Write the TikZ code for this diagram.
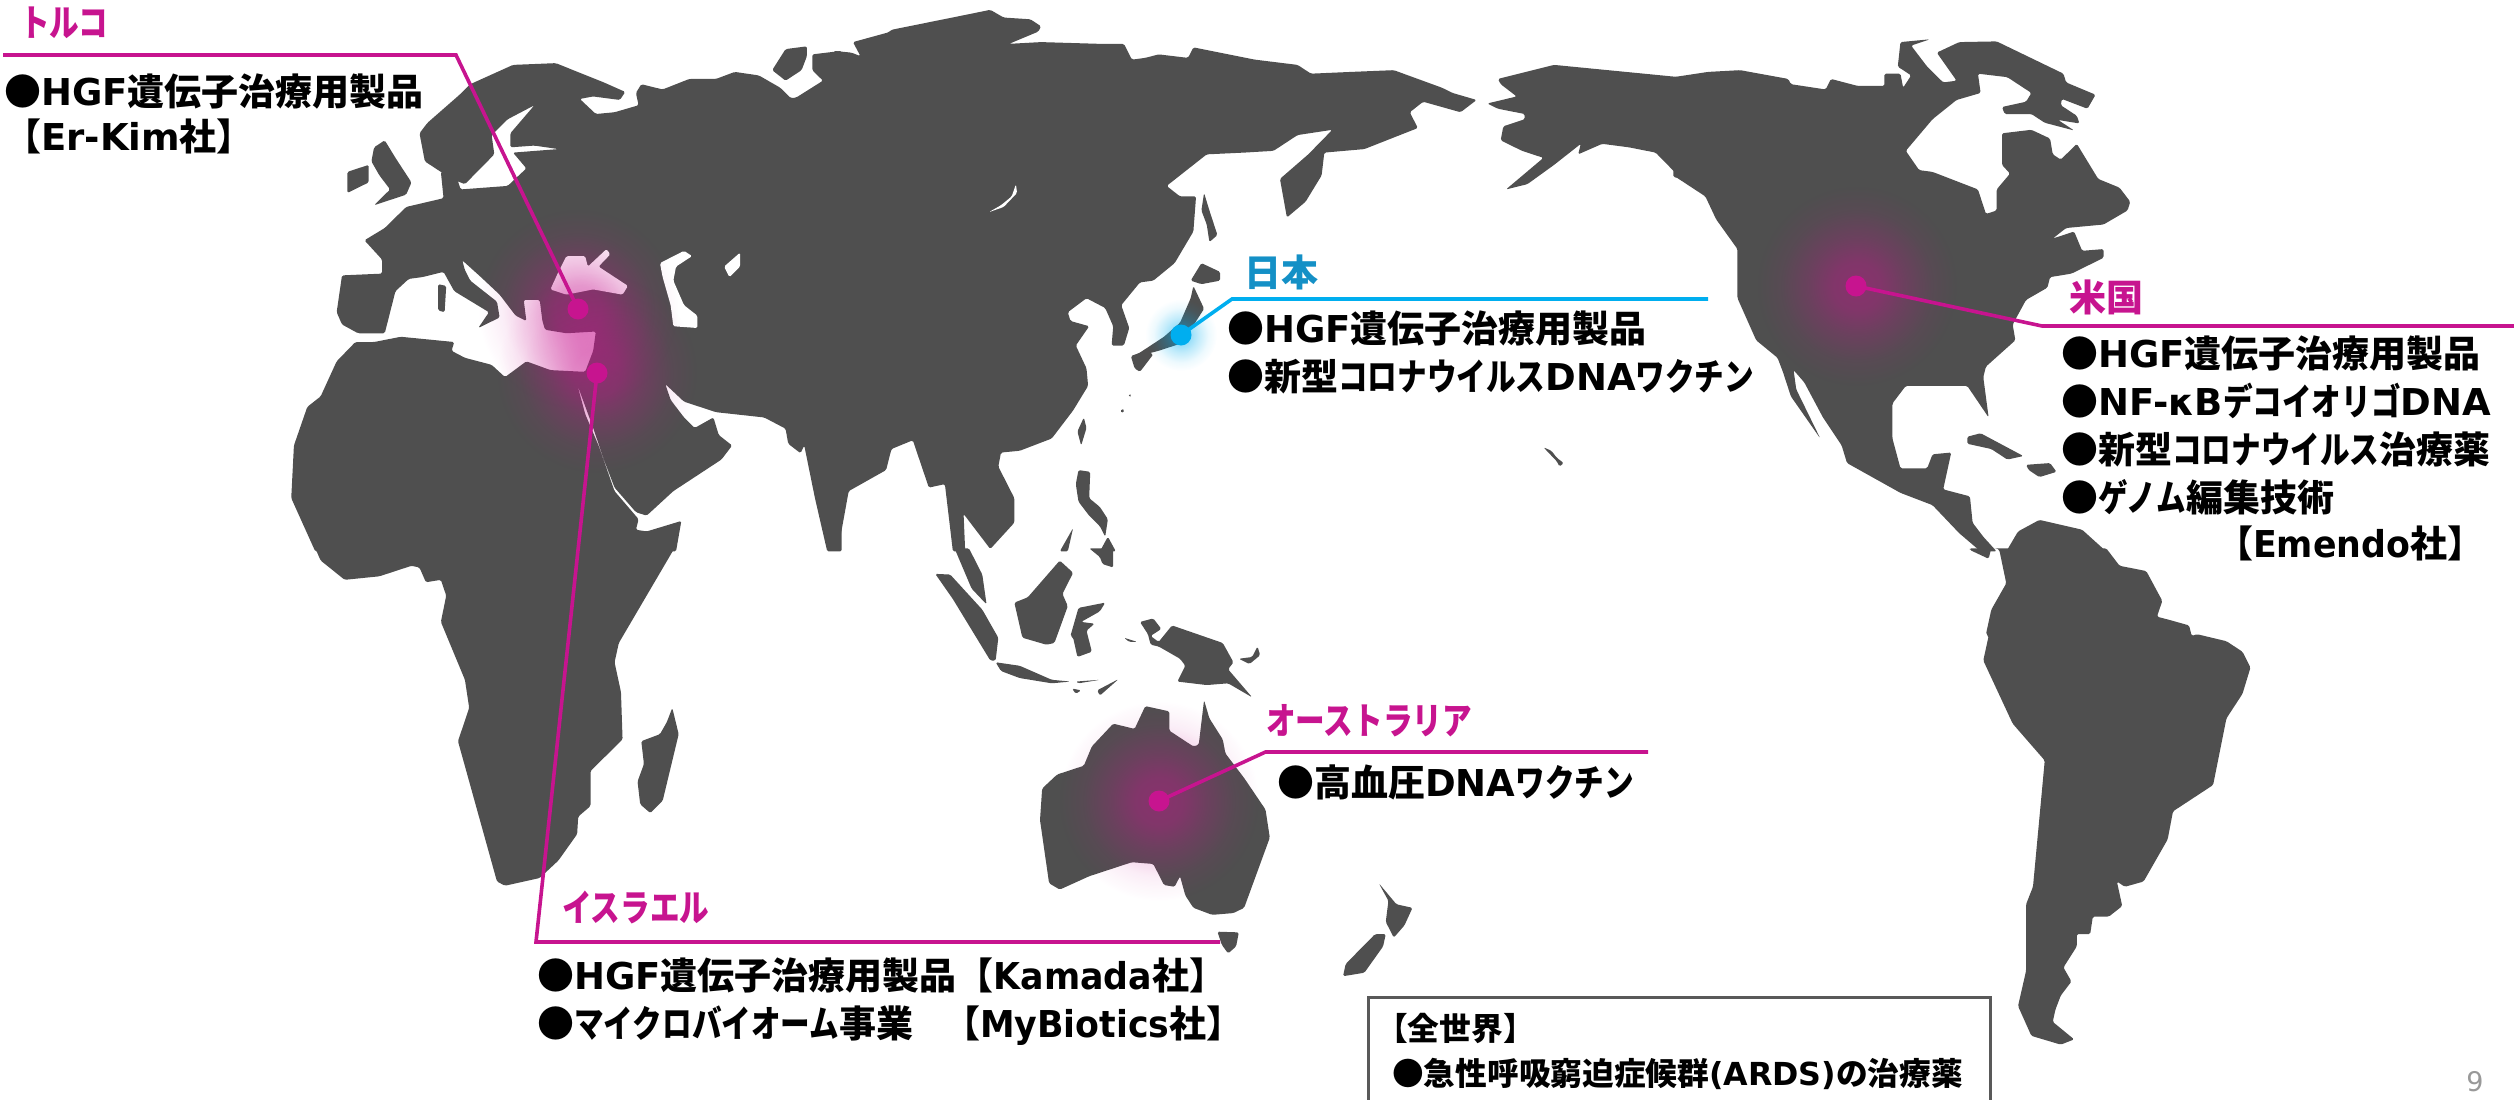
\documentclass[tikz,border=0pt]{standalone}
\usepackage{fontspec}
\usetikzlibrary{fadings}
\setmainfont{DejaVu Sans}
\newfontfamily\jpfont{Noto Sans CJK JP}
\newfontfamily\knfont{Noto Sans CJK JP}[FakeStretch=0.8]
\newfontfamily\lcfont{DejaVu Sans}[FakeStretch=0.94]
\newcommand{\JP}[1]{{\jpfont #1}}
\newcommand{\KN}[1]{{\knfont #1}}
\newcommand{\LC}[1]{{\lcfont #1}}
\definecolor{land}{HTML}{4F4F4F}
\definecolor{pk}{HTML}{C7148F}
\definecolor{bl}{HTML}{00AEEF}
\definecolor{bltxt}{HTML}{1490C6}
\definecolor{boxline}{HTML}{595959}
\pgfdeclareradialshading{glowsh}{\pgfpointorigin}{color(0bp)=(black!52); color(6bp)=(black!58); color(12bp)=(black!76); color(19bp)=(black!93); color(25bp)=(black); color(50bp)=(black)}
\pgfdeclarefading{glowfade}{\pgfuseshading{glowsh}}
\tikzset{
  c1/.style={shift={(0,0)},x=.5344pt,y=-.3508pt},
  c2/.style={shift={(838,0)},x=.5344pt,y=-.3508pt},
  c3/.style={shift={(1676,0)},x=.5344pt,y=-.3508pt},
  c4/.style={shift={(0,550)},x=.5344pt,y=-.3508pt},
  c5/.style={shift={(838,550)},x=.5344pt,y=-.3508pt},
  c6/.style={shift={(1676,550)},x=.5344pt,y=-.3508pt},
  ld/.style={fill=land,rounded corners=1.5pt},
  lake/.style={fill=white,rounded corners=1.5pt},
  pline/.style={draw=pk,line width=3.6pt,line join=miter},
  bline/.style={draw=bl,line width=3.6pt,line join=miter},
  pdot/.style={circle,fill=pk,inner sep=0,minimum size=21pt},
  bdot/.style={circle,fill=bl,inner sep=0,minimum size=21pt},
  body/.style={font=\fontsize{37}{48}\selectfont\bfseries,align=left,inner sep=0,anchor=north west,text=black},
  bodyt/.style={body,font=\fontsize{37}{45}\selectfont\bfseries},
  boxt/.style={font=\fontsize{31.7}{45}\selectfont\bfseries,align=left,inner sep=0,anchor=north west,text=black},
  plabel/.style={font=\fontsize{37}{44}\selectfont\bfseries,inner sep=0,anchor=west,text=pk},
  blabel/.style={font=\fontsize{37}{44}\selectfont\bfseries,inner sep=0,anchor=west,text=bltxt},
}
\begin{document}
\begin{tikzpicture}[x=1pt,y=-1pt]
\useasboundingbox (0,0) rectangle (2514,1100);
\begin{scope}[c1]
\fill[ld] (785,380)--(800,350)--(860,270)--(880,240)--(960,185)--(1040,180)--(1130,235)--(1170,262)--(1160,285)--(1110,275)--(1085,282)--(1115,325)--(1150,320)--(1195,300)--(1190,265)--(1200,240)--(1240,255)--(1290,225)--(1340,225)--(1375,205)--(1420,215)--(1460,250)--(1480,280)--(1490,278)--(1540,230)--(1520,200)--(1520,155)--(1575,145)--(1575,1572)--(1548,1572)--(1525,1420)--(1505,1270)--(1498,1292)--(1475,1265)--(1470,1222)--(1430,1190)--(1340,1175)--(1280,1145)--(1245,1095)--(1255,1140)--(1280,1190)--(1300,1220)--(1335,1190)--(1345,1240)--(1370,1270)--(1350,1310)--(1310,1350)--(1260,1400)--(1210,1470)--(1190,1460)--(1150,1390)--(1130,1310)--(1110,1220)--(1080,1095)--(1095,1180)--(1120,1270)--(1150,1400)--(1195,1480)--(1190,1510)--(1210,1515)--(1275,1485)--(1265,1572)--(590,1572)--(545,1420)--(550,1270)--(575,1160)--(600,1130)--(630,1030)--(665,975)--(700,975)--(750,960)--(850,975)--(845,1000)--(870,1020)--(920,1040)--(945,1075)--(985,1030)--(1030,1055)--(1095,1060)--(1110,1000)--(1115,945)--(1060,950)--(1020,940)--(1015,915)--(1010,855)--(980,855)--(985,915)--(965,900)--(935,840)--(900,790)--(865,742)--(870,770)--(880,800)--(930,860)--(935,905)--(895,935)--(915,890)--(850,830)--(830,775)--(790,790)--(765,795)--(740,830)--(730,890)--(720,950)--(670,950)--(640,925)--(630,890)--(640,785)--(715,780)--(715,740)--(682,685)--(720,650)--(760,590)--(830,565)--(825,490)--(850,485)--(862,540)--(950,530)--(985,480)--(960,435)--(1045,425)--(1000,415)--(955,420)--(955,380)--(1000,300)--(950,340)--(920,385)--(925,440)--(870,525)--(845,510)--(795,460)--cycle;
\fill[ld] (1445,200)--(1470,140)--(1510,132)--(1510,160)--(1500,200)--(1470,230)--cycle;
\fill[ld] (700,420)--(720,400)--(740,450)--(770,520)--(760,555)--(700,585)--(730,540)--(710,500)--(695,460)--cycle;
\fill[ld] (650,490)--(690,470)--(690,520)--(650,550)--cycle;
\fill[ld] (820,810)--(835,815)--(832,890)--(820,885)--cycle;
\fill[lake] (1030,825)--(1045,775)--(1060,730)--(1095,730)--(1100,760)--(1135,710)--(1142,725)--(1120,760)--(1175,815)--(1165,840)--(1110,825)--(1060,840)--cycle;
\fill[lake] (1235,750)--(1280,715)--(1295,730)--(1265,760)--(1260,800)--(1280,870)--(1305,900)--(1305,935)--(1260,930)--(1255,870)--(1240,790)--cycle;
\fill[lake] (1355,760)--(1385,720)--(1385,760)--(1365,790)--cycle;
\end{scope}
\begin{scope}[c2]
\fill[ld] (-8,145)--(25,150)--(42,160)--(28,120)--(95,92)--(100,85)--(240,42)--(285,28)--(310,50)--(360,55)--(380,75)--(375,90)--(320,125)--(380,120)--(490,125)--(535,125)--(550,170)--(575,165)--(600,155)--(655,165)--(665,135)--(780,170)--(860,185)--(885,210)--(960,205)--(1040,200)--(1130,250)--(1150,265)--(1195,285)--(1165,320)--(1095,290)--(1070,320)--(1085,365)--(985,425)--(910,435)--(905,500)--(875,575)--(840,620)--(827,510)--(880,440)--(925,370)--(860,385)--(815,430)--(760,435)--(690,440)--(615,530)--(640,560)--(670,560)--(665,660)--(630,750)--(590,800)--(565,805)--(530,870)--(545,935)--(535,985)--(512,985)--(515,930)--(500,878)--(465,850)--(430,890)--(435,915)--(470,930)--(445,985)--(465,1050)--(468,1100)--(440,1170)--(400,1250)--(340,1285)--(305,1290)--(300,1330)--(330,1420)--(330,1490)--(285,1565)--(235,1465)--(238,1572)--(215,1572)--(200,1380)--(170,1390)--(140,1255)--(100,1280)--(90,1340)--(20,1400)--(0,1568)--(-8,1572)--cycle;
\fill[ld] (685,550)--(695,600)--(710,670)--(695,690)--(690,640)--(680,600)--cycle;
\fill[ld] (680,750)--(715,775)--(715,800)--(680,810)--(660,800)--cycle;
\fill[ld] (665,815)--(685,880)--(660,940)--(640,980)--(600,1000)--(550,1020)--(570,1000)--(610,960)--(640,920)--(660,850)--cycle;
\fill[ld] (548,1015)--(575,1000)--(590,1010)--(565,1060)--(555,1050)--cycle;
\fill[ld] (530,1165)--(537,1170)--(530,1178)--cycle;
\fill[ld] (545,1122)--(550,1128)--(544,1132)--cycle;
\fill[ld] (460,1190)--(465,1220)--(455,1270)--(448,1230)--cycle;
\fill[ld] (450,1340)--(472,1345)--(470,1420)--(490,1445)--(505,1480)--(500,1530)--(490,1500)--(470,1470)--(450,1430)--(445,1380)--cycle;
\fill[ld] (490,1572)--(505,1530)--(520,1572)--cycle;
\fill[ld] (415,1572)--(440,1505)--(430,1572)--cycle;
\fill[ld] (1320,1275)--(1335,1285)--(1345,1305)--(1358,1320)--(1350,1330)--(1345,1315)--cycle;
\fill[ld] (1575,220)--(1340,185)--(1235,225)--(1240,240)--(1270,275)--(1215,295)--(1235,310)--(1285,325)--(1285,340)--(1245,360)--(1240,400)--(1280,430)--(1320,450)--(1250,540)--(1290,525)--(1340,470)--(1390,410)--(1385,440)--(1430,410)--(1480,420)--(1530,435)--(1575,505)--cycle;
\fill[lake] (333,525)--(335,550)--(310,590)--(282,605)--(305,585)--(325,560)--cycle;
\end{scope}
\begin{scope}[c3]
\fill[ld] (-5,220)--(60,205)--(120,200)--(210,225)--(215,240)--(280,255)--(290,225)--(340,245)--(390,245)--(390,210)--(420,210)--(425,250)--(440,215)--(415,190)--(420,120)--(475,112)--(440,130)--(470,190)--(500,235)--(525,230)--(488,150)--(530,120)--(600,118)--(725,210)--(730,235)--(785,270)--(770,310)--(722,282)--(720,300)--(750,330)--(755,352)--(715,342)--(745,372)--(690,350)--(665,325)--(615,325)--(610,305)--(655,290)--(665,265)--(620,220)--(565,210)--(570,265)--(525,285)--(480,340)--(430,430)--(455,485)--(480,490)--(565,540)--(580,610)--(600,600)--(600,540)--(625,495)--(610,470)--(610,380)--(665,370)--(700,395)--(705,440)--(720,455)--(750,410)--(790,510)--(830,535)--(850,575)--(845,600)--(800,640)--(730,650)--(705,680)--(745,660)--(760,715)--(800,710)--(800,735)--(740,780)--(700,790)--(695,820)--(655,855)--(630,925)--(635,970)--(580,1045)--(575,1075)--(585,1190)--(545,1100)--(480,1100)--(430,1100)--(405,1150)--(405,1250)--(420,1335)--(470,1335)--(480,1295)--(515,1290)--(500,1395)--(550,1415)--(555,1490)--(575,1530)--(600,1572)--(570,1572)--(530,1520)--(480,1440)--(420,1405)--(320,1320)--(310,1270)--(275,1190)--(240,1090)--(220,1055)--(225,1110)--(270,1250)--(215,1130)--(200,1060)--(190,1020)--(150,970)--(115,850)--(115,710)--(75,625)--(55,560)--(0,505)--(-5,505)--cycle;
\fill[ld] (618,1572)--(640,1515)--(680,1482)--(760,1510)--(805,1572)--cycle;
\fill[ld] (545,1245)--(570,1235)--(650,1300)--(620,1310)--(590,1280)--(545,1265)--cycle;
\fill[ld] (655,1325)--(700,1320)--(712,1345)--(680,1360)--(660,1340)--cycle;
\end{scope}
\begin{scope}[c4]
\fill[ld] (590,-5)--(600,30)--(645,85)--(710,75)--(770,45)--(785,50)--(797,92)--(825,85)--(835,130)--(825,205)--(870,370)--(878,450)--(857,545)--(930,945)--(945,957)--(1010,935)--(1045,885)--(1080,810)--(1082,760)--(1105,730)--(1105,630)--(1165,540)--(1162,405)--(1150,320)--(1158,265)--(1262,-5)--cycle;
\fill[ld] (1258,450)--(1270,525)--(1240,715)--(1217,750)--(1198,725)--(1193,660)--(1205,610)--(1200,545)--(1235,525)--(1248,490)--cycle;
\end{scope}
\begin{scope}[c5]
\fill[ld] (182,68)--(210,70)--(270,170)--(300,250)--(295,315)--(285,315)--(215,140)--cycle;
\fill[ld] (218,-5)--(245,-5)--(270,70)--(278,155)--(250,110)--cycle;
\fill[ld] (330,150)--(355,135)--(415,30)--(440,65)--(420,125)--(430,160)--(405,265)--(390,270)--(345,250)--cycle;
\fill[ld] (450,165)--(500,150)--(490,175)--(455,205)--(480,210)--(465,230)--(475,290)--(448,305)--(440,250)--(435,245)--cycle;
\fill[ld] (470,-5)--(515,-5)--(515,50)--(495,40)--(490,20)--cycle;
\fill[ld] (295,320)--(340,330)--(400,370)--(435,375)--(400,380)--(340,365)--(305,345)--cycle;
\fill[ld] (445,375)--(490,370)--(450,380)--cycle;
\fill[ld] (438,395)--(455,400)--(445,410)--cycle;
\fill[ld] (525,368)--(490,415)--(485,400)--cycle;
\fill[ld] (535,250)--(560,262)--(545,262)--cycle;
\fill[ld] (565,205)--(590,195)--(605,225)--(585,245)--(600,262)--(625,215)--(720,265)--(740,320)--(730,340)--(775,420)--(730,380)--(690,385)--(635,375)--(650,330)--(640,310)--(600,275)--(585,270)--(580,240)--cycle;
\fill[ld] (785,275)--(790,300)--(770,325)--(750,310)--(775,305)--cycle;
\fill[ld] (685,428)--(695,480)--(720,540)--(725,580)--(760,650)--(800,740)--(808,820)--(760,1020)--(740,1035)--(700,1040)--(665,1020)--(650,985)--(640,930)--(630,960)--(610,955)--(590,895)--(550,890)--(470,930)--(415,968)--(395,950)--(378,770)--(382,680)--(410,640)--(460,615)--(475,560)--(515,495)--(555,510)--(575,445)--(620,460)--(620,515)--(665,560)--(675,555)--cycle;
\fill[ld] (710,1088)--(750,1090)--(745,1130)--(730,1150)--(718,1125)--cycle;
\fill[ld] (1012,950)--(1045,1010)--(1075,1020)--(1060,1070)--(1040,1105)--(1025,1060)--(1030,1000)--cycle;
\fill[ld] (1005,1095)--(1025,1095)--(1020,1130)--(985,1205)--(945,1215)--(950,1180)--cycle;
\end{scope}
\begin{scope}[c6]
\fill[ld] (550,0)--(585,25)--(590,-5)--(805,-5)--(830,45)--(880,60)--(910,145)--(900,190)--(925,200)--(960,215)--(965,245)--(975,240)--(1030,260)--(1060,290)--(1075,335)--(1060,410)--(1030,480)--(1005,670)--(930,745)--(920,825)--(875,945)--(840,960)--(825,945)--(835,1015)--(810,1045)--(780,1045)--(775,1095)--(750,1095)--(750,1130)--(725,1190)--(740,1230)--(720,1270)--(710,1310)--(705,1345)--(745,1395)--(720,1410)--(665,1385)--(640,1300)--(655,1200)--(655,1010)--(668,960)--(690,600)--(630,495)--(575,315)--(585,245)--(580,240)--(590,170)--(618,95)--(605,0)--(600,-5)--(550,-5)--cycle;
\end{scope}
% glows
\fill[pk,path fading=glowfade] (578,309) circle (100);
\fill[pk,path fading=glowfade] (597,373) circle (100);
\fill[pk,path fading=glowfade] (1857,286) circle (100);
\fill[pk,path fading=glowfade] (1159,801) circle (100);
\fill[bl,path fading=glowfade] (1181,335) circle (36);
% connectors
\coordinate (tkend) at (3,55);
\coordinate (tkbend) at (456,55);
\coordinate (jpbend) at (1232,299);
\coordinate (jpend) at (1708,299);
\coordinate (usbend) at (2042,326);
\coordinate (usend) at (2514,326);
\coordinate (ilbend) at (536,942);
\coordinate (ilend) at (1220,942);
\coordinate (aubend) at (1265.5,752);
\coordinate (auend) at (1648,752);
\node[pdot] (tkdot) at (578,309) {};
\node[pdot] (ildot) at (597,373) {};
\node[pdot] (usdot) at (1856,286) {};
\node[pdot] (audot) at (1159,801) {};
\node[bdot] (jpdot) at (1181,335) {};
\draw[pline] (tkend) -- (tkbend) -- (tkdot.center);
\draw[pline] (ildot.center) -- (ilbend) -- (ilend);
\draw[pline] (usdot.center) -- (usbend) -- (usend);
\draw[pline] (audot.center) -- (aubend) -- (auend);
\draw[bline] (jpdot.center) -- (jpbend) -- (jpend);
% labels
\node[plabel] (tklabel) at (20,23) {\KN{トルコ}};
\node[blabel] (jplabel) at (1244,272) {\JP{日本}};
\node[plabel] (uslabel) at (2069,297) {\JP{米国}};
\node[plabel] (illabel) at (562,907) {\KN{イスラエル}};
\node[plabel] (aulabel) at (1266,721) {\KN{オーストラリア}};
% bodies
\node[bodyt] (tkbody) at (4,74) {\JP{●}HGF\JP{遺伝子治療用製品}\\\JP{【}Er-Kim\JP{社】}};
\node[body] (jpbody) at (1227,311) {\JP{●}HGF\JP{遺伝子治療用製品}\\\JP{●新型}\KN{コロナウイルス}DNA\KN{ワクチン}};
\node[body] (usbody) at (2061,336) {\JP{●}HGF\JP{遺伝子治療用製品}\\\JP{●}NF-κB\KN{デコイオリゴ}DNA\\\JP{●新型}\KN{コロナウイルス}\JP{治療薬}\\\JP{●}\KN{ゲノム}\JP{編集技術}};
\node[bodyt,anchor=north west] (usbody2) at (2216,526) {\JP{【}\LC{Emendo}\JP{社】}};
\node[body] (ilbody) at (537,958) {\JP{●}HGF\JP{遺伝子治療用製品【}\LC{Kamada}\JP{社】}\\\JP{●}\KN{マイクロバイオーム}\JP{事業\hspace{30pt}【}\LC{MyBiotics}\JP{社】}};
\node[body] (aubody) at (1277,765) {\JP{●高血圧}DNA\KN{ワクチン}};
% box
\draw[boxline,line width=3pt] (1368,997) rectangle (1990,1110);
\node[boxt] (wwbody) at (1376,1013) {\JP{【全世界】}\\\hspace{16pt}\JP{●急性呼吸窮迫症候群}(ARDS)\JP{の治療薬}};
\node[font=\fontsize{27}{30}\selectfont,text=black!40,inner sep=0] (pageno) at (2475,1082) {9};
\end{tikzpicture}
\end{document}
